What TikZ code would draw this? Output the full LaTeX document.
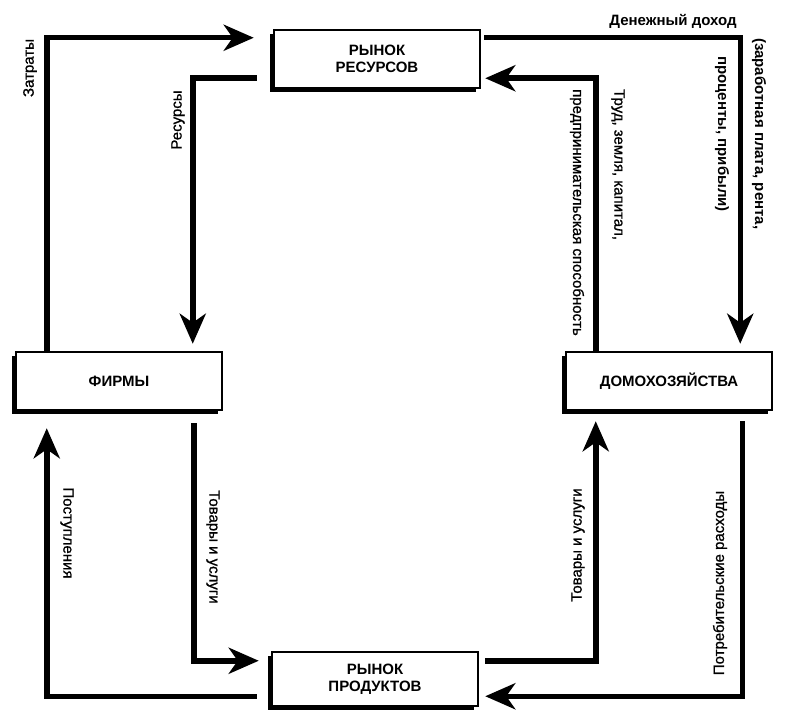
\documentclass[tikz,border=0pt]{standalone}
\usepackage{fontspec}
\setmainfont{Liberation Sans}
\newfontfamily\lblfont{Liberation Sans}[FakeBold=1]
\usetikzlibrary{arrows.meta,shadows}
\tikzset{
  market/.style={draw, line width=2.5pt, fill=white, minimum width=206pt, minimum height=58pt,
    align=center, font=\fontsize{15}{17}\selectfont\bfseries,
    drop shadow={shadow xshift=-4pt, shadow yshift=-4pt, fill=black, opacity=1}},
  flow/.style={line width=5.5pt, -{Stealth[length=30pt,width=26pt,inset=9pt]}},
  lbl/.style={font=\fontsize{15}{17}\selectfont\lblfont, inner sep=1pt},
  money/.style={font=\fontsize{15}{17}\selectfont\bfseries, inner sep=1pt}
}
\begin{document}
\begin{tikzpicture}[x=1pt,y=-1pt]
\useasboundingbox[fill=white] (0,0) rectangle (786,711);

\node[market] (res) at (377,59) {РЫНОК\\РЕСУРСОВ};
\node[market] (firms) at (119,381) {ФИРМЫ};
\node[market] (house) at (669,381) {ДОМОХОЗЯЙСТВА};
\node[market, minimum height=54pt] (prod) at (375,679) {РЫНОК\\ПРОДУКТОВ};

\draw[flow] ([xshift=32pt]firms.north west) |- ([xshift=-19pt,yshift=-9pt]res.north west);
\draw[flow] ([xshift=-16pt,yshift=11pt]res.south west) -| ([xshift=178pt,yshift=7pt]firms.north west);
\draw[flow] ([xshift=3pt,yshift=-9pt]res.north east) -| ([xshift=-33pt,yshift=7pt]house.north east);
\draw[flow] ([xshift=31pt]house.north west) |- ([xshift=4pt,yshift=11pt]res.south east);
\draw[flow] ([xshift=-31pt,yshift=-10pt]house.south east) |- ([xshift=6pt,yshift=11pt]prod.south east);
\draw[flow] ([xshift=6pt,yshift=-10pt]prod.north east) -| ([xshift=31pt,yshift=-10pt]house.south west);
\draw[flow] ([xshift=179pt,yshift=-12pt]firms.south west) |- ([xshift=-12pt,yshift=-10pt]prod.north west);
\draw[flow] ([xshift=-14pt,yshift=11pt]prod.south west) -| ([xshift=32pt,yshift=-17pt]firms.south west);

\node[lbl, rotate=90] (zatraty) at (30,68) {Затраты};
\node[lbl, rotate=90] (resursy) at (178,120) {Ресурсы};
\node[money] (dohod) at (673,21) {Денежный доход};
\node[money, rotate=-90, anchor=west] (zarplata) at (759,37) {(заработная плата, рента,};
\node[money, rotate=-90, anchor=west] (pribyl) at (722,55) {проценты, прибыли)};
\node[lbl, rotate=-90, anchor=west] (trud) at (618,88) {Труд, земля, капитал,};
\node[lbl, rotate=-90, anchor=west] (predpr) at (577,88) {предпринимательская способность};
\node[lbl, rotate=-90] (postup) at (67,533) {Поступления};
\node[lbl, rotate=-90] (tovary) at (213,547) {Товары и услуги};
\node[lbl, rotate=90] (uslugi) at (578,545) {Товары и услуги};
\node[lbl, rotate=90] (rashody) at (720,583) {Потребительские расходы};
\end{tikzpicture}
\end{document}
